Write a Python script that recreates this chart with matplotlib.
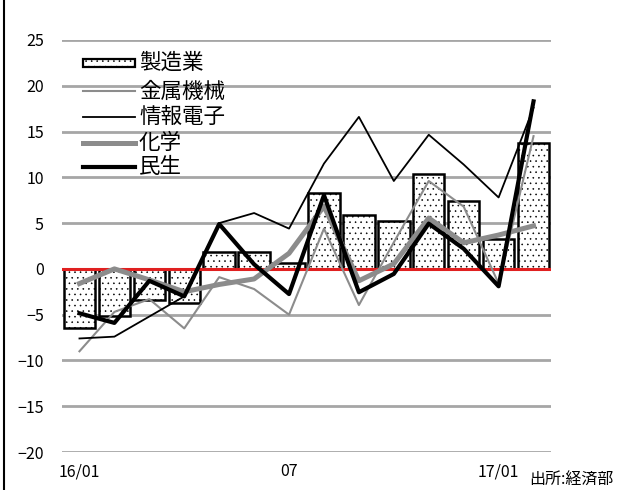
import matplotlib
matplotlib.use("Agg")
import matplotlib.pyplot as plt
from matplotlib.lines import Line2D
from matplotlib.patches import Rectangle
import numpy as np

plt.rcParams['font.family'] = ['Noto Sans CJK JP', 'DejaVu Sans']
plt.rcParams['hatch.linewidth'] = 0.4

months = ["16/01", "02", "03", "04", "05", "06", "07", "08", "09", "10", "11", "12", "17/01", "02"]
tick_labels = {0: "16/01", 6: "07", 12: "17/01"}

manufacturing = [-6.5, -5.2, -3.4, -3.75, 1.8, 1.8, 0.6, 8.25, 5.9, 5.2, 10.4, 7.4, 3.25, 13.7]
metal_machinery = [-9.0, -4.7, -3.3, -6.5, -0.9, -2.2, -5.0, 4.4, -3.95, 2.9, 9.6, 6.8, -1.6, 14.5]
info_electronics = [-7.6, -7.4, -5.2, -3.0, 5.0, 6.1, 4.4, 11.5, 16.6, 9.6, 14.65, 11.4, 7.8, 17.6]
chemicals = [-1.6, 0.0, -1.2, -2.5, -1.7, -1.1, 1.7, 6.85, -1.3, 0.55, 5.55, 2.85, 3.7, 4.7]
consumer = [-4.85, -5.9, -1.3, -3.0, 4.9, 0.5, -2.75, 8.05, -2.55, -0.55, 4.95, 2.2, -1.9, 18.3]

series_labels = ["製造業", "金属機械", "情報電子", "化学", "民生"]

W, H = 619, 490
fig = plt.figure(figsize=(W / 100, H / 100), dpi=100)
ax = fig.add_axes([62 / W, 38 / H, (551 - 62) / W, 412 / H])

x = np.arange(len(months))

ax.set_ylim(-20, 25)
ax.set_xlim(-0.5, len(months) - 0.5)
ax.set_yticks(np.arange(-20, 26, 5))
ax.yaxis.grid(True, color="#a6a6a6", linewidth=2)
ax.set_axisbelow(True)

bar_style = dict(facecolor="white", edgecolor="black", linewidth=1.8, hatch="...")
ax.bar(x, manufacturing, width=0.9, zorder=2, **bar_style)
ax.axhline(0, color="#e02020", linewidth=2.2, zorder=3)

line_styles = [
    dict(color="#8c8c8c", linewidth=1.5),
    dict(color="black", linewidth=1.3),
    dict(color="#8c8c8c", linewidth=3.6),
    dict(color="black", linewidth=3.0),
]
for z, (vals, st) in enumerate(zip([metal_machinery, info_electronics, chemicals, consumer],
                                    line_styles)):
    ax.plot(x, vals, zorder=4 + z, **st)

ax.set_xticks(list(tick_labels.keys()))
ax.set_xticklabels(list(tick_labels.values()))
for s in ax.spines.values():
    s.set_visible(False)
ax.tick_params(axis="both", length=0, labelsize=11.5)
ax.tick_params(axis="y", pad=13)
ax.tick_params(axis="x", pad=8)

# legend drawn by hand so rows sit tightly together
row_y = [63, 91.5, 117, 142.5, 167]
hx0, hx1, tx = 83, 135, 139
for i, (lab, yy) in enumerate(zip(series_labels, row_y)):
    yf = 1 - yy / H
    if i == 0:
        fig.add_artist(Rectangle((hx0 / W, yf - 4 / H), (hx1 - hx0) / W, 8 / H,
                                 transform=fig.transFigure, facecolor="white",
                                 edgecolor="black", linewidth=1.6, hatch="..."))
    else:
        fig.add_artist(Line2D([hx0 / W, hx1 / W], [yf, yf], **line_styles[i - 1]))
    fig.text(tx / W, yf, lab, fontsize=15.5, ha="left", va="center")

fig.text(529 / W, 1 / H, "出所:経済部", fontsize=11.5, ha="left", va="bottom")
fig.add_artist(Line2D([4 / W, 4 / W], [0, 1], color="black", linewidth=1.5))

fig.savefig("out.png", dpi=100)
